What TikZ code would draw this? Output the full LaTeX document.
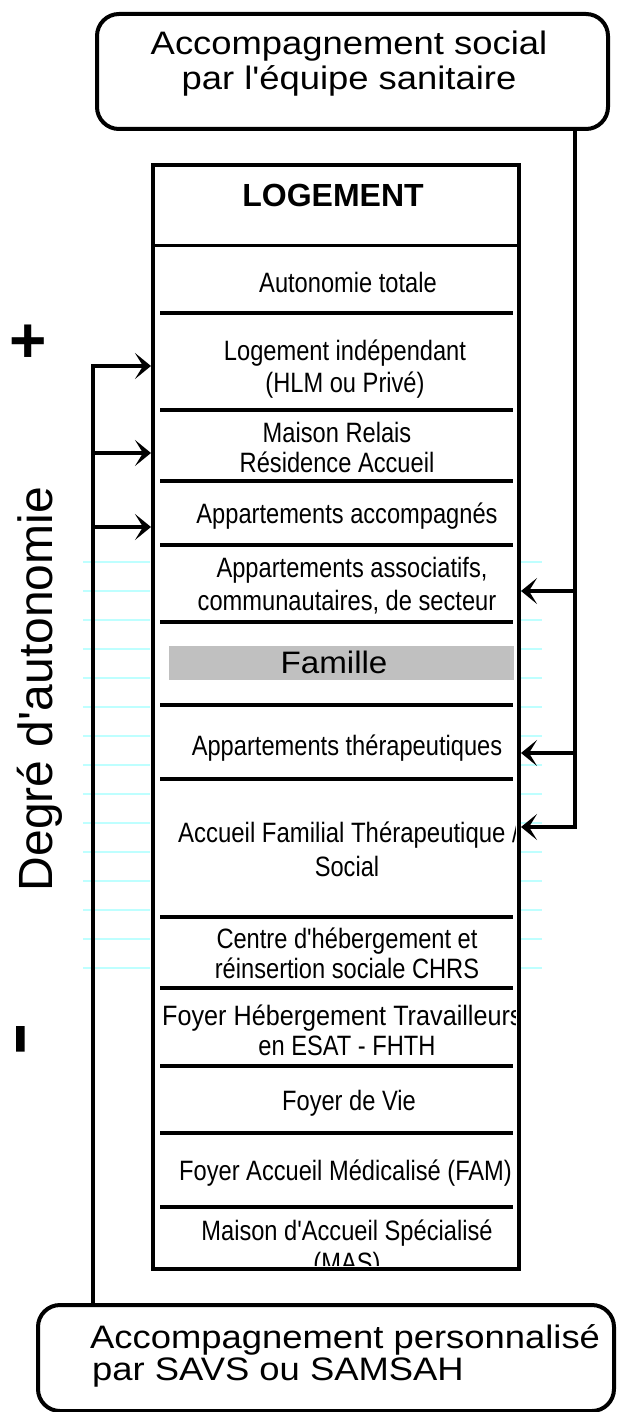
\documentclass[tikz,border=0pt]{standalone}
\usepackage{fontspec}
\setmainfont{Liberation Sans}
\newfontfamily\plainf{Liberation Sans}
\newfontfamily\barf[FakeBold=9]{Liberation Sans Bold}
\newfontfamily\rowf[FakeStretch=0.845]{Liberation Sans}
\newfontfamily\rowwf[FakeStretch=0.9]{Liberation Sans}
\newfontfamily\rowmf[FakeStretch=0.855]{Liberation Sans}
\newfontfamily\bigf[FakeStretch=1.12]{Liberation Sans}
\newfontfamily\famf[FakeStretch=1.07]{Liberation Sans}
\usetikzlibrary{arrows.meta}
\definecolor{cyanl}{RGB}{190,255,255}
\definecolor{famgray}{RGB}{192,192,192}
\tikzset{
  rowtxt/.style={font=\rowf\fontsize{28}{30}\selectfont, inner sep=0pt, anchor=base},
  bigtxt/.style={font=\bigf\fontsize{32.5}{35}\selectfont, inner sep=0pt, anchor=base},
  sepline/.style={line width=4.5pt},
  conn/.style={line width=3.5pt, line join=miter, -{Stealth[length=16pt,width=26pt,inset=8pt]}},
  rbox/.style={draw, line width=4pt, rounded corners=22pt, inner sep=0pt, fill=white},
  cyanline/.style={draw=cyanl, line width=1.5pt},
}
\begin{document}
\begin{tikzpicture}[x=1pt,y=-1pt]
\useasboundingbox (0,0) rectangle (616,1412);

% light cyan ruling
\foreach \k in {0,...,14}{
  \draw[cyanline] ({83},{562+29*\k}) -- ({150},{562+29*\k});
  \draw[cyanline] ({518},{562+29*\k}) -- ({542},{562+29*\k});
}

% main column
\node[draw, line width=4pt, fill=white, minimum width=366pt, minimum height=1104pt,
      anchor=north west, inner sep=0pt] (box) at (151,163) {};
\draw[line width=3pt] (box.west |- 0,246) -- (box.east |- 0,246);
\foreach \yy in {313,410,481,545,622,705,779,917,988,1066,1133,1207}{
  \draw[sepline] (160,\yy) -- (513,\yy);
}
\node[fill=famgray, inner sep=0pt, minimum width=345pt, minimum height=34pt, anchor=north west] (fambar) at (169,646) {};

\node[font=\bfseries\fontsize{32}{34}\selectfont, inner sep=0pt, anchor=base] (logement) at (333,207) {LOGEMENT};

\begin{scope}
\clip (153,165) rectangle (515,1265);
\node[rowtxt] (t1) at (348,293) {Autonomie totale};
\node[rowtxt] (t2a) at (345,360) {Logement indépendant};
\node[rowtxt] (t2b) at (345,392) {(HLM ou Privé)};
\node[rowtxt] (t3a) at (337,442) {Maison Relais};
\node[rowtxt] (t3b) at (337,472) {Résidence Accueil};
\node[rowtxt] (t4) at (347,523) {Appartements accompagnés};
\node[rowtxt] (t5a) at (352,577) {Appartements associatifs,};
\node[rowtxt] (t5b) at (347,610) {communautaires, de secteur};
\node[font=\famf\fontsize{31}{33}\selectfont, inner sep=0pt, anchor=base] (famille) at (334,673) {Famille};
\node[rowtxt] (t6) at (347,755) {Appartements thérapeutiques};
\node[rowtxt, font=\rowmf\fontsize{28}{30}\selectfont, anchor=base west] (t7a) at (178,842) {Accueil Familial Thérapeutique /};
\node[rowtxt] (t7b) at (347,876) {Social};
\node[rowtxt] (t8a) at (347,948) {Centre d'hébergement et};
\node[rowtxt] (t8b) at (347,978) {réinsertion sociale CHRS};
\node[rowtxt, font=\rowwf\fontsize{28}{30}\selectfont, anchor=base west] (t9a) at (162,1025) {Foyer Hébergement Travailleurs};
\node[rowtxt] (t9b) at (347,1055) {en ESAT - FHTH};
\node[rowtxt] (t10) at (349,1110) {Foyer de Vie};
\node[rowtxt, anchor=base west] (t11) at (179,1180) {Foyer Accueil Médicalisé (FAM)};
\node[rowtxt] (t12a) at (347,1240) {Maison d'Accueil Spécialisé};
\node[rowtxt] (t12b) at (347,1272) {(MAS)};
\end{scope}

% top box
\node[rbox, minimum width=511pt, minimum height=115pt] (topbox) at (352.5,71.5) {};
\node[bigtxt] (tt1) at (349,55) {Accompagnement social};
\node[bigtxt] (tt2) at (349,90) {par l'équipe sanitaire};

% bottom box
\node[rbox, minimum width=576pt, minimum height=106pt, anchor=north west] (botbox) at (36,1303) {};
\node[bigtxt, anchor=base west] (bt1) at (90,1348) {Accompagnement personnalisé};
\node[bigtxt, anchor=base west] (bt2) at (92,1380) {par SAVS ou SAMSAH};

% right connectors
\coordinate (R1) at (575,591);
\coordinate (R2) at (575,753);
\coordinate (R3) at (575,827);
\draw[conn] (topbox.south -| R3) -- (R3) -- (box.east |- R3);
\draw[conn] (R1) -- (box.east |- R1);
\draw[conn] (R2) -- (box.east |- R2);

% left connectors
\coordinate (L1) at (93,366);
\coordinate (L2) at (93,453);
\coordinate (L3) at (93,527);
\draw[conn] (botbox.north -| L1) -- (L1) -- (box.west |- L1);
\draw[conn] (L2) -- (box.west |- L2);
\draw[conn] (L3) -- (box.west |- L3);

% autonomy axis
\node[font=\plainf\bfseries\fontsize{64}{64}\selectfont, inner sep=0pt] (plus) at (28,344) {+};
\node[rotate=-90, xscale=1.85, anchor=base, font=\barf\fontsize{40}{40}\selectfont, inner sep=0pt] (minus) at (10,1039) {-};
\node[rotate=90, anchor=base, font=\plainf\fontsize{48}{48}\selectfont, inner sep=0pt] (deg) at (52,689) {Degré d'autonomie};
\end{tikzpicture}
\end{document}
